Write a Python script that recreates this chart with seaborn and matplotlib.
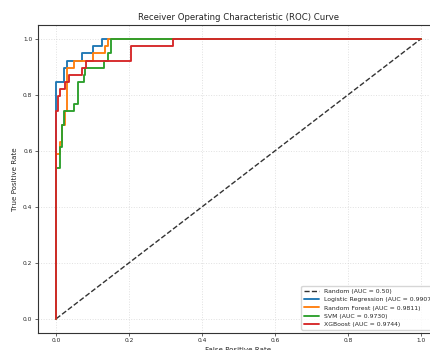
import matplotlib
matplotlib.use("Agg")
import matplotlib.pyplot as plt
import seaborn as sns

# ROC corner points (fpr, tpr)
random_fpr = [0.0, 1.0]
random_tpr = [0.0, 1.0]

lr_fpr = [0.0, 0.0, 0.020, 0.029, 0.072, 0.102, 0.125, 1.0]
lr_tpr = [0.0, 0.846, 0.897, 0.923, 0.949, 0.974, 1.0, 1.0]

rf_fpr = [0.0, 0.0, 0.009, 0.0155, 0.025, 0.029, 0.050, 0.102, 0.134, 0.143, 1.0]
rf_tpr = [0.0, 0.590, 0.632, 0.692, 0.744, 0.897, 0.923, 0.949, 0.974, 1.0, 1.0]

svm_fpr = [0.0, 0.0, 0.009, 0.0155, 0.020, 0.049, 0.060, 0.075, 0.080, 0.130, 0.143, 0.151, 1.0]
svm_tpr = [0.0, 0.538, 0.615, 0.692, 0.744, 0.769, 0.846, 0.872, 0.897, 0.923, 0.949, 1.0, 1.0]

xgb_fpr = [0.0, 0.0, 0.004, 0.011, 0.025, 0.036, 0.070, 0.081, 0.205, 0.321, 1.0]
xgb_tpr = [0.0, 0.744, 0.795, 0.821, 0.846, 0.872, 0.897, 0.923, 0.974, 1.0, 1.0]

labels = ['Logistic Regression (AUC = 0.9907)', 'Random Forest (AUC = 0.9811)',
          'SVM (AUC = 0.9730)', 'XGBoost (AUC = 0.9744)']
colors = ['#1f77b4', '#ff7f0e', '#2ca02c', '#d62728']

sns.set_style('ticks')

fig = plt.figure(figsize=(4.3, 3.5), dpi=100)
# axes runs slightly past the right edge, like the cropped original
ax = fig.add_axes([38 / 430, 17.3 / 350, 401 / 430, 307.7 / 350])

sns.lineplot(x=random_fpr, y=random_tpr, ax=ax, color='#333333', linestyle='--',
             linewidth=1.0, label='Random (AUC = 0.50)', sort=False, estimator=None)

curves = [(lr_fpr, lr_tpr), (rf_fpr, rf_tpr), (svm_fpr, svm_tpr), (xgb_fpr, xgb_tpr)]
for (fpr, tpr), lab, col in zip(curves, labels, colors):
    sns.lineplot(x=fpr, y=tpr, ax=ax, color=col, linewidth=1.35, label=lab,
                 sort=False, estimator=None, drawstyle='steps-post')

ax.set_xlim(-0.05, 1.05)
ax.set_ylim(-0.05, 1.05)
ax.grid(True, linestyle=':', linewidth=0.7, alpha=0.6)
ax.tick_params(labelsize=4.2, length=2, width=0.5, pad=2)
for s in ax.spines.values():
    s.set_linewidth(0.8)
    s.set_color('#333333')

ax.set_xlabel('False Positive Rate', fontsize=5.1, labelpad=3)
ax.set_ylabel('True Positive Rate', fontsize=5.1, labelpad=4)
ax.set_title('Receiver Operating Characteristic (ROC) Curve', fontsize=6.1, pad=3.5)

ax.legend(loc='lower right', fontsize=4.4, handlelength=2.5)

fig.savefig('out.png', dpi=100)
